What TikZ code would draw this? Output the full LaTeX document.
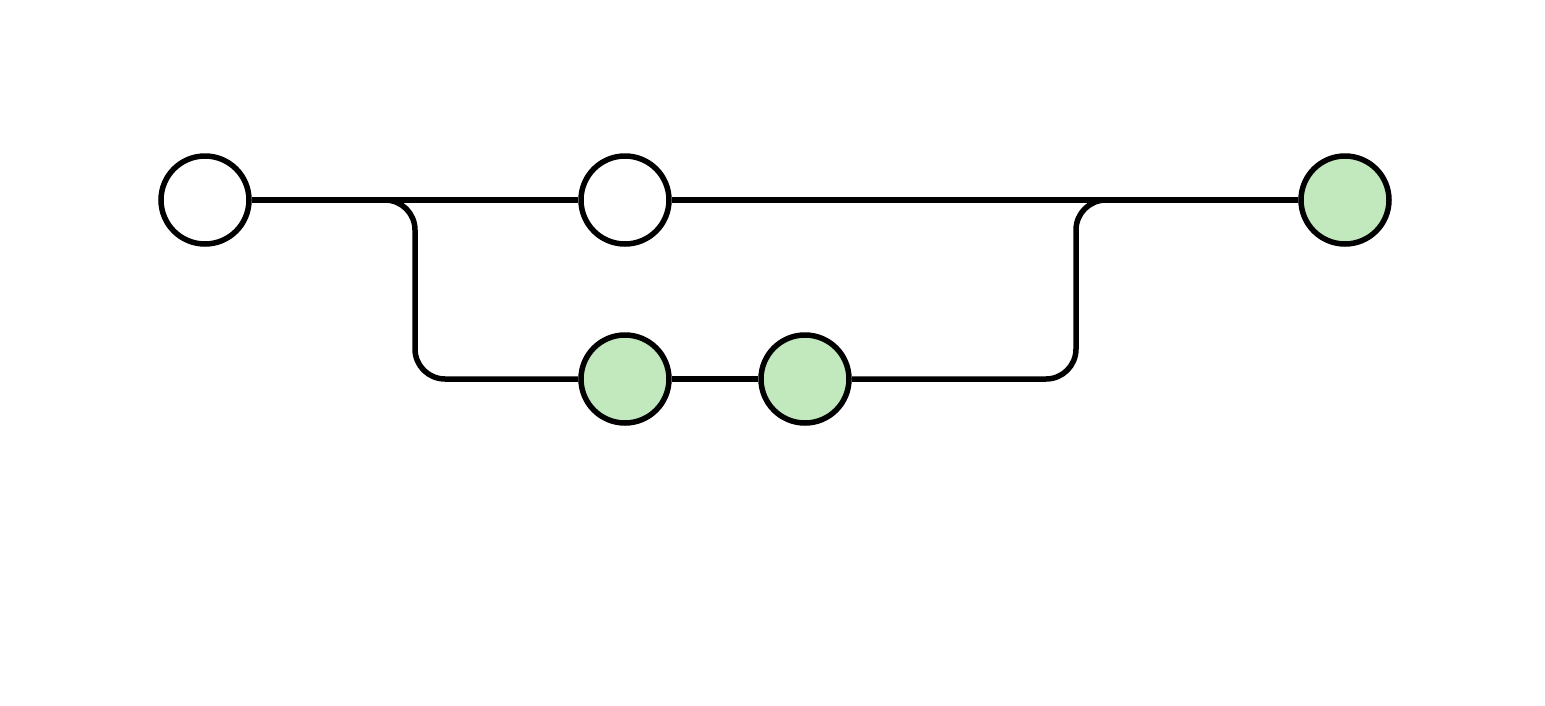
\documentclass[tikz,border=0pt]{standalone}
\usetikzlibrary{backgrounds}
\definecolor{commitgreen}{HTML}{C2E8BE}
\tikzset{
  commit/.style={circle, draw=black, line width=5.5pt, minimum size=88pt, inner sep=0pt, fill=white},
  newcommit/.style={commit, fill=commitgreen},
  edge/.style={draw=black, line width=5.5pt, rounded corners=30pt}
}
\begin{document}
\begin{tikzpicture}[x=1pt,y=-1pt]
\node[commit] (a) at (205,200) {};
\node[commit] (b) at (625,200) {};
\node[newcommit] (c) at (1345,200) {};
\node[newcommit] (d) at (625,379) {};
\node[newcommit] (e) at (805,379) {};
\coordinate (l1) at (415,200);
\coordinate (l2) at (415,379);
\coordinate (r1) at (1076,379);
\coordinate (r2) at (1076,200);
\begin{scope}[on background layer]
\fill[white] (0,0) rectangle (1545,705);
\draw[edge] (a) -- (b);
\draw[edge] (b) -- (c);
\draw[edge] (a.east) -- (l1) -- (l2) -- (d.west);
\draw[edge] (d) -- (e);
\draw[edge] (e.east) -- (r1) -- (r2) -- (c.west);
\end{scope}
\useasboundingbox (0,0) rectangle (1545,705);
\end{tikzpicture}
\end{document}
